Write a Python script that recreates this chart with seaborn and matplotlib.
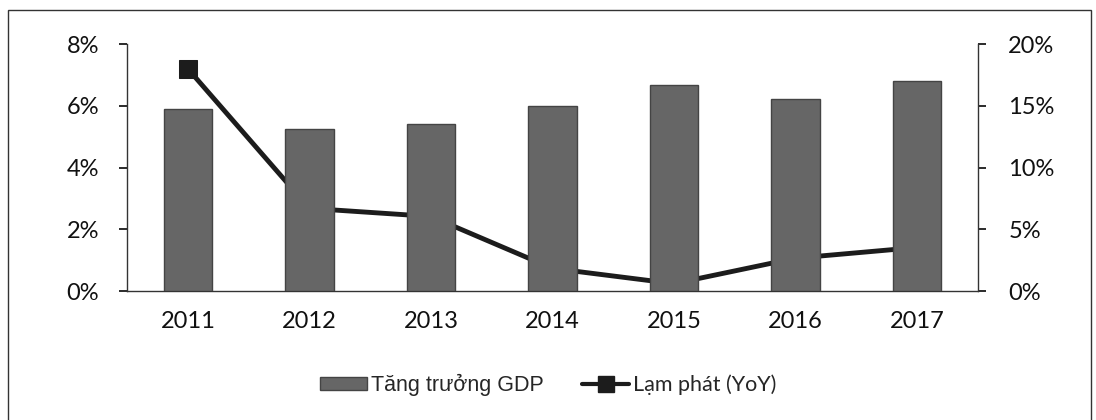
import numpy as np
import pandas as pd
import matplotlib
matplotlib.use('Agg')
import matplotlib.pyplot as plt
import matplotlib.ticker as mtick
from matplotlib.patches import Patch, Rectangle
from matplotlib.lines import Line2D
import seaborn as sns

years = ['2011', '2012', '2013', '2014', '2015', '2016', '2017']
gdp_growth = [5.89, 5.25, 5.42, 5.98, 6.68, 6.21, 6.81]
inflation = [18.0, 6.7, 6.04, 1.84, 0.6, 2.66, 3.53]

df = pd.DataFrame({'Year': years, 'GDP': gdp_growth, 'CPI': inflation})

sns.set_theme(style='white')
plt.rcParams['font.family'] = ['Lato', 'DejaVu Sans']

fig = plt.figure(figsize=(10.96, 4.2), dpi=100)
ax = fig.add_axes([0.116, 0.307, 0.776, 0.588])
ax2 = ax.twinx()

bar_color = '#666666'

# bars on the primary axis, line behind them on the twin axis
sns.barplot(data=df, x='Year', y='GDP', color=bar_color, saturation=1,
            width=0.4, ax=ax, zorder=3)
for p in ax.patches:
    p.set_edgecolor('#444444')
    p.set_linewidth(1)

sns.lineplot(x=np.arange(len(years)), y=df['CPI'], ax=ax2, color='#1c1c1c',
             linewidth=3.5, marker='s', markersize=13, markeredgecolor='#1c1c1c')

ax.set_zorder(ax2.get_zorder() + 1)
ax.patch.set_visible(False)

ax.set_xlim(-0.5, len(years) - 0.5)
ax.set_ylim(0, 8)
ax2.set_ylim(0, 20)
ax.set_yticks([0, 2, 4, 6, 8])
ax2.set_yticks([0, 5, 10, 15, 20])
ax.yaxis.set_major_formatter(mtick.FuncFormatter(lambda v, _: f'{v:.0f}%'))
ax2.yaxis.set_major_formatter(mtick.FuncFormatter(lambda v, _: f'{v:.0f}%'))

ax.set_xlabel('')
ax.set_ylabel('')
ax2.set_ylabel('')

for a in (ax, ax2):
    for s in a.spines.values():
        s.set_visible(False)
    a.grid(False)
ax.spines['left'].set_visible(True)
ax.spines['bottom'].set_visible(True)
ax2.spines['right'].set_visible(True)
for s in (ax.spines['left'], ax.spines['bottom'], ax2.spines['right']):
    s.set_color('#333333')
    s.set_linewidth(1)

ax.tick_params(axis='x', which='major', length=0, pad=14, labelsize=17, colors='#111111')
ax.set_xticks(np.arange(len(years) + 1) - 0.5, minor=True)
ax.tick_params(axis='x', which='minor', length=6, direction='out', color='#333333')
ax.tick_params(axis='y', length=6, direction='out', labelsize=17, colors='#111111', pad=14)
ax2.tick_params(axis='y', length=6, direction='out', labelsize=17, colors='#111111', pad=16)
for a in (ax, ax2):
    for t in a.get_yticklines():
        t.set_color('#333333')

handles = [
    Patch(facecolor=bar_color, edgecolor='#444444', label='Tăng trưởng GDP'),
    Line2D([0], [0], color='#1c1c1c', linewidth=3, marker='s', markersize=12,
           label='Lạm phát (YoY)'),
]
leg = fig.legend(handles=handles, loc='center', bbox_to_anchor=(0.5, 0.083), ncol=2,
                 frameon=False, fontsize=15.5, handlelength=2.2, handleheight=0.6,
                 handletextpad=0.15, columnspacing=1.8)
leg.get_texts()[0].set_family(['Liberation Sans', 'DejaVu Sans'])

# outer frame of the original chart
fig.patches.append(Rectangle((0.007, -0.01), 0.988, 0.987, transform=fig.transFigure,
                             fill=False, edgecolor='#333333', linewidth=1))

fig.savefig('out.png', dpi=100, facecolor='white')
